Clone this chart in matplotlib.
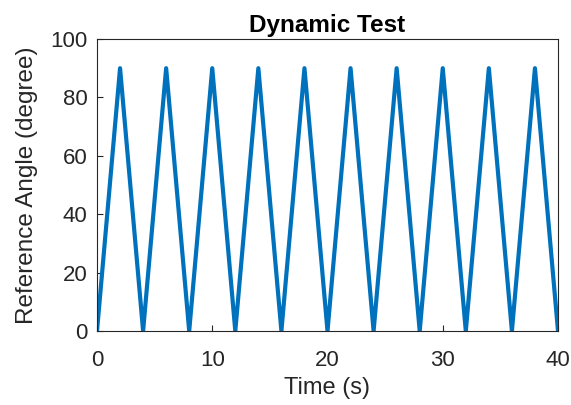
import matplotlib
matplotlib.use('Agg')
import matplotlib.pyplot as plt

# triangle reference signal, peaks every 4 s
time_s = [0, 2, 4, 6, 8, 10, 12, 14, 16, 18, 20,
          22, 24, 26, 28, 30, 32, 34, 36, 38, 40]
angle_deg = [0, 90, 0, 90, 0, 90, 0, 90, 0, 90, 0,
             90, 0, 90, 0, 90, 0, 90, 0, 90, 0]

x_ticks = [0, 10, 20, 30, 40]
y_ticks = [0, 20, 40, 60, 80, 100]

plt.rcParams['font.family'] = ['Liberation Sans', 'DejaVu Sans']

fig = plt.figure(figsize=(5.71, 4.05), dpi=100)
ax = fig.add_axes([97 / 571, 1 - 331 / 405, 461 / 571, 292 / 405])

ax.plot(time_s, angle_deg, color='#0072BD', linewidth=3.0)

ax.set_xlim(0, 40)
ax.set_ylim(0, 100)
ax.set_xticks(x_ticks)
ax.set_yticks(y_ticks)
ax.tick_params(direction='in', length=4, width=0.8, colors='#262626',
               labelsize=16, top=False, right=False)
ax.tick_params(axis='y', pad=7)
ax.tick_params(axis='x', pad=14)
for s in ax.spines.values():
    s.set_color('#262626')
    s.set_linewidth(0.8)

ax.set_xlabel('Time (s)', fontsize=17, color='#262626', labelpad=4)
ax.set_ylabel('Reference Angle (degree)', fontsize=17.5, color='#262626', labelpad=9)
ax.set_title('Dynamic Test', fontsize=17.5, fontweight='bold', color='black', pad=5)

fig.savefig('out.png', dpi=100)
